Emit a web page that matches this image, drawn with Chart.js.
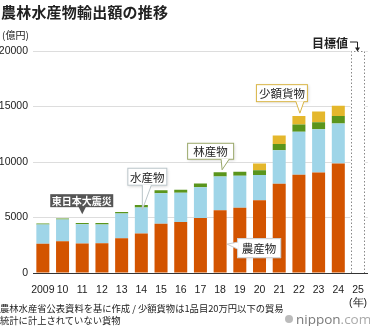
<!DOCTYPE html>
<html>
<head>
<meta charset="utf-8">
<script src="https://cdn.jsdelivr.net/npm/chart.js@4"></script>
<style>
  body { margin: 0; background: #fff; }
  #wrap { position: relative; width: 370px; height: 326px; font-family: "Noto Sans CJK JP", sans-serif; color: #222; }
  #wrap canvas { position: absolute; left: 0; top: 0; }
  .txt { position: absolute; white-space: nowrap; }
  #title { left: 1px; top: 1px; font-size: 15px; font-weight: bold; letter-spacing: 0.2px; }
  #unit { left: 2px; top: 27px; font-size: 10px; }
  #note { left: 0; top: 303px; font-size: 9.3px; line-height: 11.5px; }
  #logo { left: 285px; top: 310px; font-family: "Open Sans", sans-serif; font-size: 13.5px; color: #7a7a7a; }
  #logo .dot { display: inline-block; width: 8px; height: 8px; border-radius: 50%; background: #bbb; margin-right: 3px; vertical-align: 1px; }
  #logo .com { color: #aaa; }
</style>
</head>
<body>
<div id="wrap">
  <canvas id="chart" width="370" height="326"></canvas>
  <div class="txt" id="title">農林水産物輸出額の推移</div>
  <div class="txt" id="unit">(億円)</div>
  <div class="txt" id="note">農林水産省公表資料を基に作成 / 少額貨物は1品目20万円以下の貿易<br>統計に計上されていない貨物</div>
  <div class="txt" id="logo"><span class="dot"></span>nippon<span class="com">.com</span></div>
</div>
<script>
/* ─── Data (億円) ────────────────────────── */
const years = ['2009', '10', '11', '12', '13', '14', '15', '16', '17', '18', '19', '20', '21', '22', '23', '24', ['25', '(年)']];
const agri   = [2637, 2865, 2652, 2680, 3136, 3569, 4431, 4593, 4966, 5661, 5878, 6552, 8041, 8862, 9059, 9864, null];
const fish   = [1724, 1950, 1736, 1698, 2216, 2337, 2757, 2640, 2749, 3031, 2873, 2276, 3015, 3873, 3901, 3609, null];
const forest = [93, 106, 123, 118, 152, 211, 263, 268, 355, 376, 370, 429, 570, 638, 621, 667, null];
const small  = [0, 0, 0, 0, 0, 0, 0, 0, 0, 0, 0, 603, 756, 775, 961, 933, null];
const target = [null, null, null, null, null, null, null, null, null, null, null, null, null, null, null, null, 20000];
const yTicks = [0, 5000, 10000, 15000, 20000];

const colors = {
    agri: '#d35400',
    fish: '#9fd5e8',
    forest: '#5a951c',
    small: '#e4b72c',
    grid: '#dddddd',
    axis: '#333333'
};

const numFont = { family: "Arial, 'Liberation Sans', sans-serif", size: 10.5 };

/* ─── Callouts ───────────────────────────── */
// anchor: category index + value on the y scale; box is offset from that tip
const callouts = [
    { text: '東日本大震災', idx: 2, val: 5300, dx: 0, box: [-32, -20, 63, 13], dark: true, base: [-4, 4] },
    { text: '水産物', idx: 5, val: 5700, dx: 1, box: [-15, -42, 40, 18], border: '#b9c4c8', base: [0, 9] },
    { text: '林産物', idx: 9, val: 9300, dx: 2, box: [-35, -27, 47, 17], border: '#9aa86a', base: [-1, 7] },
    { text: '少額貨物', idx: 13, val: 14400, dx: 1, box: [-44, -29, 52, 18], border: '#d8b545', base: [-4, 4] },
    { text: '農産物', idx: 9, val: 2600, dx: 7, box: [10, -6, 44, 20], border: '#cccccc', left: true }
];

const calloutPlugin = {
    id: 'callouts',
    afterDatasetsDraw(chart) {
        const { ctx, scales: { x, y } } = chart;
        ctx.save();
        callouts.forEach(c => {
            const tx = x.getPixelForValue(c.idx) + c.dx;
            const ty = y.getPixelForValue(c.val);
            const bx = tx + c.box[0], by = ty + c.box[1], bw = c.box[2], bh = c.box[3];
            const fill = c.dark ? '#555555' : '#ffffff';
            ctx.shadowColor = c.dark ? 'rgba(0,0,0,0)' : 'rgba(0,0,0,0.18)';
            ctx.shadowBlur = 3;
            ctx.shadowOffsetX = 1;
            ctx.shadowOffsetY = 1;
            ctx.fillStyle = fill;
            ctx.fillRect(bx, by, bw, bh);
            ctx.shadowColor = 'rgba(0,0,0,0)';
            if (c.border) {
                ctx.strokeStyle = c.border;
                ctx.lineWidth = 1;
                ctx.strokeRect(bx + 0.5, by + 0.5, bw - 1, bh - 1);
            }
            // pointer
            ctx.beginPath();
            if (c.left) {
                ctx.moveTo(bx + 1, by + 4);
                ctx.lineTo(tx, ty);
                ctx.lineTo(bx + 1, by + 11);
            } else {
                ctx.moveTo(tx + c.base[0], by + bh - 1);
                ctx.lineTo(tx, ty);
                ctx.lineTo(tx + c.base[1], by + bh - 1);
            }
            ctx.closePath();
            ctx.fillStyle = fill;
            ctx.fill();
            if (c.border) {
                ctx.strokeStyle = c.border;
                ctx.beginPath();
                if (c.left) {
                    ctx.moveTo(bx + 0.5, by + 4);
                    ctx.lineTo(tx, ty);
                    ctx.lineTo(bx + 0.5, by + 11);
                } else {
                    ctx.moveTo(tx + c.base[0], by + bh - 0.5);
                    ctx.lineTo(tx, ty);
                    ctx.lineTo(tx + c.base[1], by + bh - 0.5);
                }
                ctx.stroke();
            }
            ctx.fillStyle = c.dark ? '#ffffff' : '#222222';
            ctx.font = (c.dark ? 'bold 10px' : '11.5px') + " 'Noto Sans CJK JP', sans-serif";
            ctx.textAlign = 'center';
            ctx.textBaseline = 'middle';
            ctx.fillText(c.text, bx + bw / 2, by + bh / 2 + 0.5);
        });

        // target bar: dotted outline + label
        const meta = chart.getDatasetMeta(4);
        const bar = meta.data[16];
        if (bar) {
            const half = bar.width / 2;
            const l = Math.round(bar.x - half) + 0.5, r = Math.round(bar.x + half) - 0.5;
            const t = Math.round(bar.y) + 0.5, b = Math.round(bar.base);
            ctx.strokeStyle = '#888888';
            ctx.lineWidth = 1;
            ctx.setLineDash([1.5, 2]);
            ctx.beginPath();
            ctx.moveTo(l, b); ctx.lineTo(l, t); ctx.lineTo(r, t); ctx.lineTo(r, b);
            ctx.stroke();
            ctx.setLineDash([]);

            ctx.strokeStyle = '#222222';
            ctx.beginPath();
            ctx.moveTo(bar.x - 8, t - 9.5);
            ctx.lineTo(bar.x - 0.5, t - 9.5);
            ctx.lineTo(bar.x - 0.5, t - 3);
            ctx.stroke();
            ctx.fillStyle = '#222222';
            ctx.beginPath();
            ctx.moveTo(bar.x - 3, t - 4);
            ctx.lineTo(bar.x + 2, t - 4);
            ctx.lineTo(bar.x - 0.5, t);
            ctx.closePath();
            ctx.fill();

            ctx.font = "bold 12px 'Noto Sans CJK JP', sans-serif";
            ctx.textAlign = 'right';
            ctx.textBaseline = 'middle';
            ctx.fillText('目標値', bar.x - 10, t - 8);
        }
        ctx.restore();
    }
};

/* ─── Chart ──────────────────────────────── */
const ctx = document.getElementById('chart');
new Chart(ctx.getContext('2d'), {
    type: 'bar',
    data: {
        labels: years,
        datasets: [
            { label: '農産物', data: agri, backgroundColor: colors.agri },
            { label: '水産物', data: fish, backgroundColor: colors.fish },
            { label: '林産物', data: forest, backgroundColor: colors.forest },
            { label: '少額貨物', data: small, backgroundColor: colors.small },
            { label: '目標値', data: target, backgroundColor: '#ffffff', barPercentage: 0.76 }
        ]
    },
    options: {
        responsive: false,
        animation: false,
        devicePixelRatio: 1,
        layout: { padding: { top: 51, right: 0, left: 0, bottom: 0 } },
        datasets: {
            bar: { categoryPercentage: 1, barPercentage: 0.66, borderWidth: 0 }
        },
        plugins: {
            legend: { display: false },
            tooltip: { enabled: false }
        },
        scales: {
            x: {
                stacked: true,
                grid: { display: false },
                border: { color: colors.axis, width: 1 },
                ticks: { color: '#222', font: numFont, padding: 3, maxRotation: 0, autoSkip: false },
                afterFit: s => { s.height = 53; }
            },
            y: {
                stacked: true,
                min: 0,
                max: 20000,
                border: { display: false },
                grid: { color: colors.grid, drawTicks: false },
                afterBuildTicks: s => { s.ticks = yTicks.map(v => ({ value: v })); },
                ticks: { color: '#222', font: numFont, padding: 5, callback: v => String(v) },
                afterFit: s => { s.width = 33; }
            }
        }
    },
    plugins: [calloutPlugin]
});
</script>
</body>
</html>
